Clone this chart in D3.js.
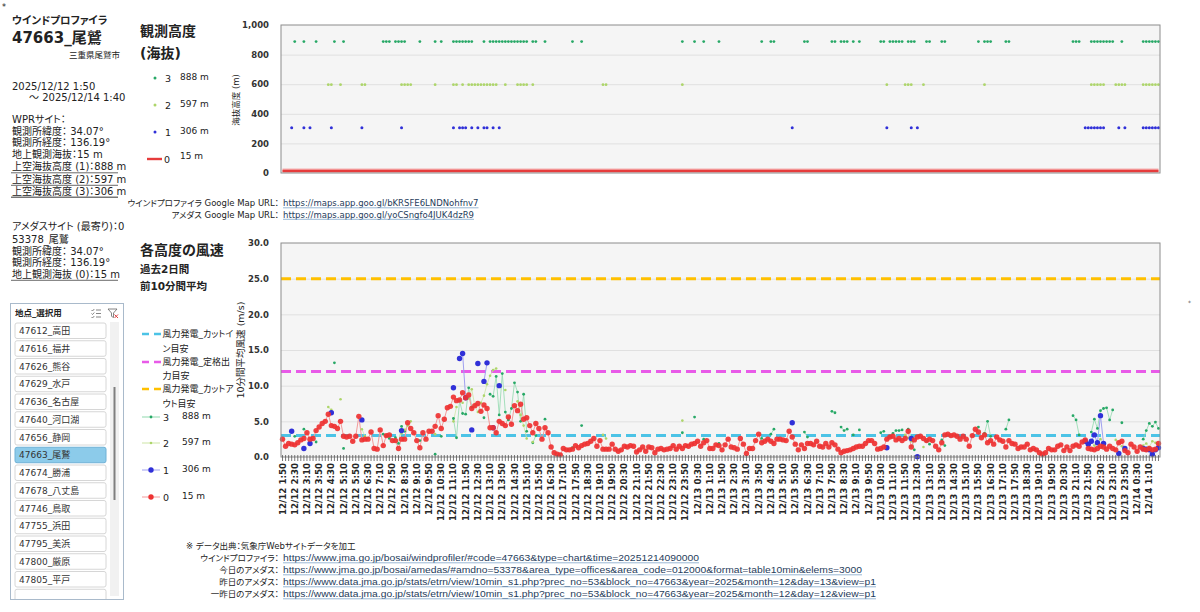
<!DOCTYPE html>
<html>
<head>
<meta charset="utf-8">
<script src="https://cdn.jsdelivr.net/npm/d3@7"></script>
<style>
  body { margin: 0; background: #fff; }
  svg { font-feature-settings: "palt"; }
</style>
</head>
<body>
<svg id="chart" width="1200" height="612"></svg>
<script>
// ---- data ----------------------------------------------------------
const startTime = new Date(2025, 11, 12, 1, 50);   // first 10-min slot
const nSlots = 288;                                 // 2 days of 10-min slots
const labelEvery = 4;

const levelNames   = ["3", "2", "1", "0"];
const levelHeights = [888, 597, 306, 15];           // m above sea level

const cutIn = 3.0, rated = 12.0, cutOut = 25.0;     // m/s guide lines

// AMeDAS surface (15 m), every slot
const speed15 = [
  2.5,1.5,1.9,1.8,1.7,2.0,2.4,2.6,3.4,2.5, 2.6,3.7,4.2,4.7,5.0,6.0,4.4,4.3,4.0,5.0,
  2.9,2.8,2.9,2.2,2.9,5.7,2.4,2.5,2.5,3.5, 1.2,1.1,3.8,1.6,3.0,3.1,2.3,2.3,1.2,2.5,
  2.5,4.8,4.0,3.4,2.3,1.3,3.4,2.5,3.6,3.6, 4.3,5.8,4.0,5.3,6.9,7.1,8.4,7.9,8.0,9.0,
  8.3,8.7,6.8,7.2,7.5,6.4,7.3,6.8,4.1,4.1, 3.4,5.0,4.7,4.4,5.6,4.6,7.2,6.5,7.4,5.3,
  5.5,4.4,3.4,4.7,4.0,2.5,4.1,3.4,1.4,0.6, 0.4,0.3,1.2,1.0,1.0,1.1,1.6,
  1.3,1.6,1.8,1.9,2.2,2.6,1.5,2.3,1.1,1.1, 1.1,1.8,1.1,0.8,1.0,1.5,1.4,1.6,1.5,0.7,
  1.0,1.4,0.8,1.4,1.3,0.6,1.1,1.2,1.0,1.1, 1.2,1.6,1.1,1.5,1.2,1.6,1.5,1.8,1.9,2.2,
  1.5,2.0,2.3,1.2,1.2,1.7,1.6,1.0,1.7,2.5, 1.4,1.3,1.1,2.6,1.8,0.5,1.2,1.2,2.3,3.2,
  2.0,2.2,2.5,2.2,1.9,2.5,2.5,2.4,2.3,3.6, 2.8,1.8,1.0,1.7,1.2,1.9,1.9,1.7,2.2,1.5,
  1.4,1.9,1.4,2.0,1.7,1.1,0.6,0.8,0.9,1.0, 1.2,1.4,1.5,1.5,1.9,2.3,
  2.3,1.9,1.1,1.2,1.4,2.5,2.8,2.9,2.4,2.6, 2.3,2.6,3.6,1.4,2.4,2.8,2.9,2.6,2.3,2.5,
  2.3,1.5,1.0,2.0,3.1,3.2,3.0,3.1,2.9,2.5, 2.9,2.5,1.5,3.0,3.9,3.5,2.7,3.1,2.0,2.3,
  1.8,2.8,2.4,2.2,1.4,2.3,1.9,1.8,1.2,1.4, 1.4,1.8,1.0,1.2,1.0,0.6,0.4,0.6,1.2,1.0,
  1.0,1.5,1.7,0.9,1.4,0.9,1.5,1.7,1.5,2.1, 2.4,1.2,1.1,1.0,1.2,1.5,1.4,1.1,1.5,1.2,
  1.0,2.0,2.2,0.9,0.6,1.8,1.4,0.8,1.4,1.1, 1.0,1.2,1.0,1.1,1.9
];

// wind profiler levels: [slot, m/s], only where a value exists
const speed306 = [
  [3,3.6],[7,1.2],[9,1.9],[16,6.2],[26,5.2],[39,3.7],[56,9.7],[58,13.8],[59,14.5],[60,8.3],
  [62,3.8],[64,13.1],[66,10.6],[67,13.2],[69,4.1],[71,10.0],[167,4.8],[198,1.3],[206,2.6],[208,0.05],
  [263,2.2],[264,1.8],[265,2.2],[266,3.1],[267,2.0],[268,5.8],[269,1.9],[274,0.5],[276,1.2],
  [282,1.2],[283,1.1],[284,1.0],[285,0.4],[286,1.0],[287,1.3]
];
const speed597 = [
  [15,7.0],[16,6.6],[19,8.1],[26,3.9],[27,2.9],[39,3.3],[40,3.8],[41,4.4],[42,5.0],[50,3.2],
  [56,5.0],[57,7.0],[59,7.6],[61,8.2],[62,9.5],[63,7.2],[64,6.3],[65,7.6],[66,8.6],[67,10.2],
  [68,11.4],[69,12.2],[70,12.4],[73,9.4],[77,7.8],[78,5.9],[79,4.4],[80,2.6],[82,2.1],
  [105,3.1],[106,2.6],[131,5.1],[198,1.5],[204,3.1],[205,2.7],[206,2.2],[210,1.4],[230,3.0],
  [265,2.2],[266,1.6],[267,1.9],[268,2.5],[269,1.8],[273,2.4],[274,2.1],[275,1.5],[276,1.2],
  [282,1.6],[283,1.9],[284,1.4],[285,2.2],[286,2.0],[287,1.8]
];
const speed888 = [
  [4,2.9],[7,3.9],[11,2.1],[17,13.2],[20,1.2],[33,3.2],[34,3.0],[35,2.6],[37,2.7],[38,1.9],
  [39,4.3],[40,3.6],[45,2.3],[50,0.4],[52,2.9],[56,5.4],[57,2.7],[58,7.9],[59,6.1],[60,6.0],
  [61,9.7],[62,7.0],[66,5.5],[68,8.8],[69,8.5],[70,11.3],[71,5.9],[72,11.7],[73,6.3],[74,5.2],
  [75,6.8],[76,10.4],[77,9.1],[78,5.0],[79,8.8],[80,3.6],[82,2.0],[83,3.0],[86,5.3],
  [95,1.3],[98,4.4],[131,3.4],[135,5.6],[138,2.5],[143,1.9],[157,2.6],[160,3.2],[161,3.9],
  [171,3.5],[172,2.8],[180,6.4],[181,6.2],[183,4.2],[184,3.7],[185,3.9],[187,3.1],[189,3.8],
  [196,3.4],[197,3.6],[199,2.9],[200,3.3],[201,3.7],[202,3.7],[203,3.8],[205,3.9],[206,2.8],
  [207,1.0],[211,2.2],[212,1.8],[216,2.4],[217,1.6],[228,4.2],[230,3.3],[231,5.0],[232,2.9],
  [237,3.9],[238,5.2],[259,5.8],[260,5.2],[261,3.1],[265,3.5],[266,5.3],[267,4.0],[268,6.5],
  [269,6.8],[270,6.9],[271,5.2],[272,6.6],[275,4.8],[282,2.5],[283,3.7],[284,4.7],[285,4.3],
  [286,4.9],[287,4.0]
];

const stations = [
  "47612_高田","47616_福井","47626_熊谷","47629_水戸","47636_名古屋","47640_河口湖",
  "47656_静岡","47663_尾鷲","47674_勝浦","47678_八丈島","47746_鳥取","47755_浜田",
  "47795_美浜","47800_厳原","47805_平戸",""
];
const selectedStation = "47663_尾鷲";

const mapLinks = [
  ["ウインドプロファイラ Google Map URL：", "https://maps.app.goo.gl/bKRSFE6LNDNohfnv7"],
  ["アメダス Google Map URL：", "https://maps.app.goo.gl/yoCSngfo4JUK4dzR9"]
];
const sourceLinks = [
  ["ウインドプロファイラ：", "https://www.jma.go.jp/bosai/windprofiler/#code=47663&type=chart&time=20251214090000"],
  ["今日のアメダス：", "https://www.jma.go.jp/bosai/amedas/#amdno=53378&area_type=offices&area_code=012000&format=table10min&elems=3000"],
  ["昨日のアメダス：", "https://www.data.jma.go.jp/stats/etrn/view/10min_s1.php?prec_no=53&block_no=47663&year=2025&month=12&day=13&view=p1"],
  ["一昨日のアメダス：", "https://www.data.jma.go.jp/stats/etrn/view/10min_s1.php?prec_no=53&block_no=47663&year=2025&month=12&day=12&view=p1"]
];

// ---- helpers -------------------------------------------------------
const FONT = '"DejaVu Sans","Noto Sans CJK JP",sans-serif';
const svg = d3.select("#chart");

const slots = d3.range(nSlots).map(i => new Date(+startTime + i * 600000));
const fmtSlot = d => `${d.getMonth()+1}/${d.getDate()} ${d.getHours()}:${String(d.getMinutes()).padStart(2,"0")}`;

const toFull = pairs => {
  const a = new Array(nSlots).fill(null);
  pairs.forEach(([i, v]) => a[i] = v);
  return a;
};

function T(g, x, y, s, o = {}) {
  return g.append("text")
    .attr("x", x).attr("y", y)
    .attr("font-family", o.ff || FONT)
    .attr("font-size", o.fs || 9.5)
    .attr("font-weight", o.bold ? "bold" : null)
    .attr("text-anchor", o.anchor || "start")
    .attr("fill", o.fill || "#222")
    .text(s);
}

function underline(g, x1, x2, y, w = 0.8, c = "#444") {
  g.append("line").attr("x1", x1).attr("x2", x2).attr("y1", y).attr("y2", y)
    .attr("stroke", c).attr("stroke-width", w);
}

svg.append("rect").attr("width", 1200).attr("height", 612).attr("fill", "#fff");

const plotL = 281, plotR = 1160;
const x = d3.scaleBand().domain(d3.range(nSlots)).range([plotL, plotR]);
const cx = i => x(i) + x.bandwidth() / 2;

const series = [
  { name: levelNames[0], h: levelHeights[0], data: toFull(speed888), dot: "#27a866", line: "#8fd9ad", r: 1.4, lw: 0.8 },
  { name: levelNames[1], h: levelHeights[1], data: toFull(speed597), dot: "#add56a", line: "#cde5a5", r: 1.3, lw: 0.8 },
  { name: levelNames[2], h: levelHeights[2], data: toFull(speed306), dot: "#3030d8", line: "#a0a0f0", r: 2.7, lw: 1 },
  { name: levelNames[3], h: levelHeights[3], data: speed15,          dot: "#ee3232", line: "#f39a9a", r: 2.7, lw: 1 }
];

function styleAxis(g, fs = 8.5) {
  g.attr("font-family", null).attr("font-size", null);
  g.select(".domain").remove();
  g.selectAll("text").attr("font-family", FONT).attr("font-size", fs)
    .attr("font-weight", "bold").attr("fill", "#333");
}

// ---- top chart: observed heights ------------------------------------
const yTop = d3.scaleLinear().domain([0, 1000]).range([173, 25]);
const gTop = svg.append("g");

gTop.append("rect").attr("x", plotL).attr("y", 25).attr("width", plotR - plotL).attr("height", 148)
  .attr("fill", "#f5f5f5");
gTop.append("g").attr("transform", `translate(${plotL},0)`)
  .call(d3.axisLeft(yTop).tickValues(d3.range(200, 1000, 200)).tickSize(-(plotR - plotL)).tickFormat(""))
  .call(g => g.select(".domain").remove())
  .selectAll("line").attr("stroke", "#e0e0e0");
gTop.append("g").attr("transform", `translate(${plotL},0)`)
  .call(d3.axisLeft(yTop).tickValues(d3.range(0, 1001, 200)).tickSize(0).tickPadding(12).tickFormat(d3.format(",")))
  .call(styleAxis);

series.slice(0, 3).forEach(s => {
  gTop.append("g").selectAll("circle")
    .data(d3.range(nSlots).filter(i => s.data[i] != null))
    .join("circle")
    .attr("cx", cx).attr("cy", yTop(s.h)).attr("r", s === series[2] ? 1.5 : 1.4)
    .attr("fill", s.dot);
});
const lineTop = d3.line().x(cx).y(yTop(levelHeights[3]));
gTop.append("path").datum(d3.range(nSlots).filter(i => speed15[i] != null))
  .attr("d", lineTop).attr("fill", "none").attr("stroke", "#f6b0b0").attr("stroke-width", 4.5);
gTop.append("path").datum(d3.range(nSlots).filter(i => speed15[i] != null))
  .attr("d", lineTop).attr("fill", "none").attr("stroke", "#e63c3c").attr("stroke-width", 2.2);
gTop.append("rect").attr("x", plotL).attr("y", 25).attr("width", plotR - plotL).attr("height", 148)
  .attr("fill", "none").attr("stroke", "#8c8c8c");

T(gTop, 0, 0, "海抜高度 (m)", { fs: 8.5, anchor: "middle" })
  .attr("transform", "translate(239,100) rotate(-90)");

// top legend
T(svg, 140, 36, "観測高度", { fs: 14, bold: true });
T(svg, 140, 58, "(海抜)", { fs: 14, bold: true });
[78, 105, 132].forEach((yy, k) => {
  svg.append("circle").attr("cx", 155).attr("cy", yy).attr("r", 1.5).attr("fill", series[k].dot);
  T(svg, 165, yy + 4, series[k].name, { fs: 9.5 });
  T(svg, 180, yy + 2, `${series[k].h} m`, { fs: 9 });
});
svg.append("line").attr("x1", 147).attr("x2", 162).attr("y1", 159).attr("y2", 159)
  .attr("stroke", "#e63c3c").attr("stroke-width", 2.4);
T(svg, 164, 163, levelNames[3], { fs: 9.5 });
T(svg, 180, 159, `${levelHeights[3]} m`, { fs: 9 });

// ---- bottom chart: wind speed --------------------------------------
const yBot = d3.scaleLinear().domain([0, 30]).range([457, 243]);
const gBot = svg.append("g");

gBot.append("rect").attr("x", plotL).attr("y", 243).attr("width", plotR - plotL).attr("height", 214)
  .attr("fill", "#f5f5f5");
gBot.append("g").attr("transform", `translate(${plotL},0)`)
  .call(d3.axisLeft(yBot).tickValues(d3.range(5, 30, 5)).tickSize(-(plotR - plotL)).tickFormat(""))
  .call(g => g.select(".domain").remove())
  .selectAll("line").attr("stroke", "#e0e0e0");
gBot.append("g").attr("transform", `translate(${plotL},0)`)
  .call(d3.axisLeft(yBot).tickValues(d3.range(0, 31, 5)).tickSize(0).tickPadding(12).tickFormat(d3.format(".1f")))
  .call(styleAxis);

const guides = [
  { v: cutIn,  color: "#4cc3e6", label: ["風力発電_カットイ", "ン目安"] },
  { v: rated,  color: "#e85ae8", label: ["風力発電_定格出", "力目安"] },
  { v: cutOut, color: "#ffc000", label: ["風力発電_カットア", "ウト目安"] }
];
guides.forEach(gd => {
  gBot.append("line").attr("x1", plotL).attr("x2", plotR).attr("y1", yBot(gd.v)).attr("y2", yBot(gd.v))
    .attr("stroke", gd.color).attr("stroke-width", 3).attr("stroke-dasharray", "10,5");
});

const lineBot = d3.line().defined(d => d != null).x((d, i) => cx(i)).y(d => yBot(d));
series.forEach(s => {
  gBot.append("path").datum(s.data).attr("d", lineBot)
    .attr("fill", "none").attr("stroke", s.line).attr("stroke-width", s.lw);
});
series.forEach(s => {
  gBot.append("g").selectAll("circle")
    .data(d3.range(nSlots).filter(i => s.data[i] != null))
    .join("circle")
    .attr("cx", cx).attr("cy", i => yBot(s.data[i])).attr("r", s.r)
    .attr("fill", s.dot).attr("fill-opacity", s === series[3] ? 0.92 : 1);
});

gBot.append("rect").attr("x", plotL).attr("y", 243).attr("width", plotR - plotL).attr("height", 214)
  .attr("fill", "none").attr("stroke", "#8c8c8c");

// dense slot ticks
const gTicks = gBot.append("g").attr("transform", "translate(0,455)")
  .call(d3.axisBottom(x).tickValues(d3.range(nSlots)).tickSize(6).tickFormat(""));
gTicks.select(".domain").remove();
gTicks.selectAll("line").attr("stroke", "#555").attr("stroke-width", 0.8);

// rotated time labels
const gx = gBot.append("g").attr("transform", "translate(0,457)")
  .call(d3.axisBottom(x).tickValues(d3.range(0, nSlots, labelEvery))
    .tickFormat(i => fmtSlot(slots[i])).tickSize(0));
styleAxis(gx, 8.7);
gx.selectAll("text").attr("transform", "rotate(-90)").attr("x", -6).attr("y", 0)
  .attr("dy", "0.35em").attr("text-anchor", "end").attr("fill", "#262626");

T(gBot, 0, 0, "10分間平均風速 (m/s)", { fs: 9.5, anchor: "middle" })
  .attr("transform", "translate(244,350) rotate(-90)");

// bottom legend
T(svg, 140, 255, "各高度の風速", { fs: 14, bold: true });
T(svg, 140, 272.5, "過去2日間", { fs: 10.5, bold: true });
T(svg, 140, 290, "前10分間平均", { fs: 10.5, bold: true });

[[334, 351.5], [362, 379], [389, 406.5]].forEach(([yy, y2], k) => {
  svg.append("line").attr("x1", 142).attr("x2", 161).attr("y1", yy).attr("y2", yy)
    .attr("stroke", guides[k].color).attr("stroke-width", 2.6).attr("stroke-dasharray", "7,5");
  T(svg, 162.5, yy + 3, guides[k].label[0], { fs: 9 });
  T(svg, 162.5, y2, guides[k].label[1], { fs: 9 });
});
[417, 443, 470, 497].forEach((yy, k) => {
  const s = series[k];
  svg.append("line").attr("x1", 142).attr("x2", 160).attr("y1", yy).attr("y2", yy)
    .attr("stroke", s.line).attr("stroke-width", 1);
  svg.append("circle").attr("cx", 151).attr("cy", yy).attr("r", s.r).attr("fill", s.dot);
  T(svg, 163, yy + 4, s.name, { fs: 9.5 });
  T(svg, 182, yy + 2, `${s.h} m`, { fs: 9 });
});

// ---- left info panel ----------------------------------------------
T(svg, 2, 10, "*", { fs: 8 });
T(svg, 1188, 305, "*", { fs: 6, fill: "#555" });
T(svg, 12, 23.5, "ウインドプロファイラ", { fs: 10.5, bold: true });
T(svg, 12, 42.5, "47663_尾鷲", { fs: 15, bold: true });
T(svg, 120, 57.5, "三重県尾鷲市", { fs: 8.5, anchor: "end" });
T(svg, 12, 90, "2025/" + fmtSlot(slots[0]), { fs: 10 });
T(svg, 29, 100.5, "～ 2025/" + fmtSlot(slots[nSlots - 1]), { fs: 10 });

const PF = 10;
T(svg, 12, 122.5, "WPRサイト：", { fs: PF });
T(svg, 12, 134.5, "観測所緯度： 34.07°", { fs: PF });
T(svg, 12, 146, "観測所経度： 136.19°", { fs: PF });
T(svg, 12, 158, `地上観測海抜：${levelHeights[3]} m`, { fs: PF });
[[170, 0], [182.5, 1], [194.5, 2]].forEach(([yy, k]) => {
  T(svg, 12, yy, `上空海抜高度 (${k + 1})：${levelHeights[k]} m`, { fs: PF });
  underline(svg, 11, 118, yy + 2.8, k === 2 ? 1.6 : 0.8, k === 2 ? "#777" : "#444");
});
T(svg, 12, 229.5, "アメダスサイト (最寄り)：0", { fs: PF });
T(svg, 12, 242.5, "53378_尾鷲", { fs: PF });
T(svg, 12, 254.5, "観測所緯度： 34.07°", { fs: PF });
T(svg, 12, 266, "観測所経度： 136.19°", { fs: PF });
T(svg, 12, 277.5, `地上観測海抜 (0)：${levelHeights[3]} m`, { fs: PF });
underline(svg, 11, 118, 280.3);

// ---- station slicer ------------------------------------------------
const gSl = svg.append("g");
svg.append("clipPath").attr("id", "slClip").append("rect")
  .attr("x", 11).attr("y", 304).attr("width", 112).attr("height", 295);
gSl.append("rect").attr("x", 10.5).attr("y", 303.5).attr("width", 113).attr("height", 296)
  .attr("fill", "#fff").attr("stroke", "#a9bacb");
T(gSl, 15, 316, "地点_選択用", { fs: 8.5, bold: true });
// multi-select icon
[310, 313.5, 317].forEach(yy => {
  gSl.append("line").attr("x1", 96).attr("x2", 101).attr("y1", yy).attr("y2", yy).attr("stroke", "#666").attr("stroke-width", 0.8);
});
gSl.append("path").attr("d", "M91.5,310 l1,1 l1.8,-2 M91.5,313.5 l1,1 l1.8,-2 M91.5,317 l1,1 l1.8,-2")
  .attr("fill", "none").attr("stroke", "#666").attr("stroke-width", 0.8);
// clear-filter icon
gSl.append("path").attr("d", "M108,309 h9 l-3.5,4 v4.5 l-2,-1.2 v-3.3 z")
  .attr("fill", "none").attr("stroke", "#666").attr("stroke-width", 0.8);
gSl.append("path").attr("d", "M114.5,314.5 l3.5,3.5 M118,314.5 l-3.5,3.5")
  .attr("stroke", "#e04040").attr("stroke-width", 1);

const gItems = gSl.append("g").attr("clip-path", "url(#slClip)");
gItems.append("rect").attr("x", 110).attr("y", 322).attr("width", 9).attr("height", 274).attr("fill", "#f1f1f1");
gItems.append("line").attr("x1", 114.5).attr("x2", 114.5).attr("y1", 387).attr("y2", 500)
  .attr("stroke", "#7f7f7f").attr("stroke-width", 2);
stations.forEach((st, k) => {
  const top = 323 + k * 17.75;
  const sel = st === selectedStation;
  gItems.append("rect").attr("x", 15).attr("y", top).attr("width", 91).attr("height", 15.5).attr("rx", 2)
    .attr("fill", sel ? "#8ccbea" : "#fff").attr("stroke", sel ? "#6fb1d6" : "#d6d6d6");
  T(gItems, 19, top + 11.2, st, { fs: 9, fill: "#333" });
});

// ---- map links and data sources ---------------------------------------
function linkText(yy, label, url, fs, ff, width) {
  T(svg, 279, yy, label, { fs: 8.5, anchor: "end" });
  const t = T(svg, 283, yy, url, { fs, ff, fill: "#1f3d5c" });
  if (width) t.attr("textLength", width).attr("lengthAdjust", "spacingAndGlyphs");
  const w = width || t.node().getComputedTextLength();
  underline(svg, 283, 283 + w, yy + 1.8, 0.8, "#7fa6c9");
}
mapLinks.forEach(([lab, url], k) => linkText(206 + k * 11.5, lab, url, 8.5, FONT));

T(svg, 186, 549, "※ データ出典：気象庁Webサイトデータを加工", { fs: 8.5 });
const srcWidths = [416, 579, 593, 593];
sourceLinks.forEach(([lab, url], k) =>
  linkText(561 + k * 12, lab, url, 9, '"Liberation Sans","Noto Sans CJK JP",sans-serif', srcWidths[k]));
</script>
</body>
</html>
